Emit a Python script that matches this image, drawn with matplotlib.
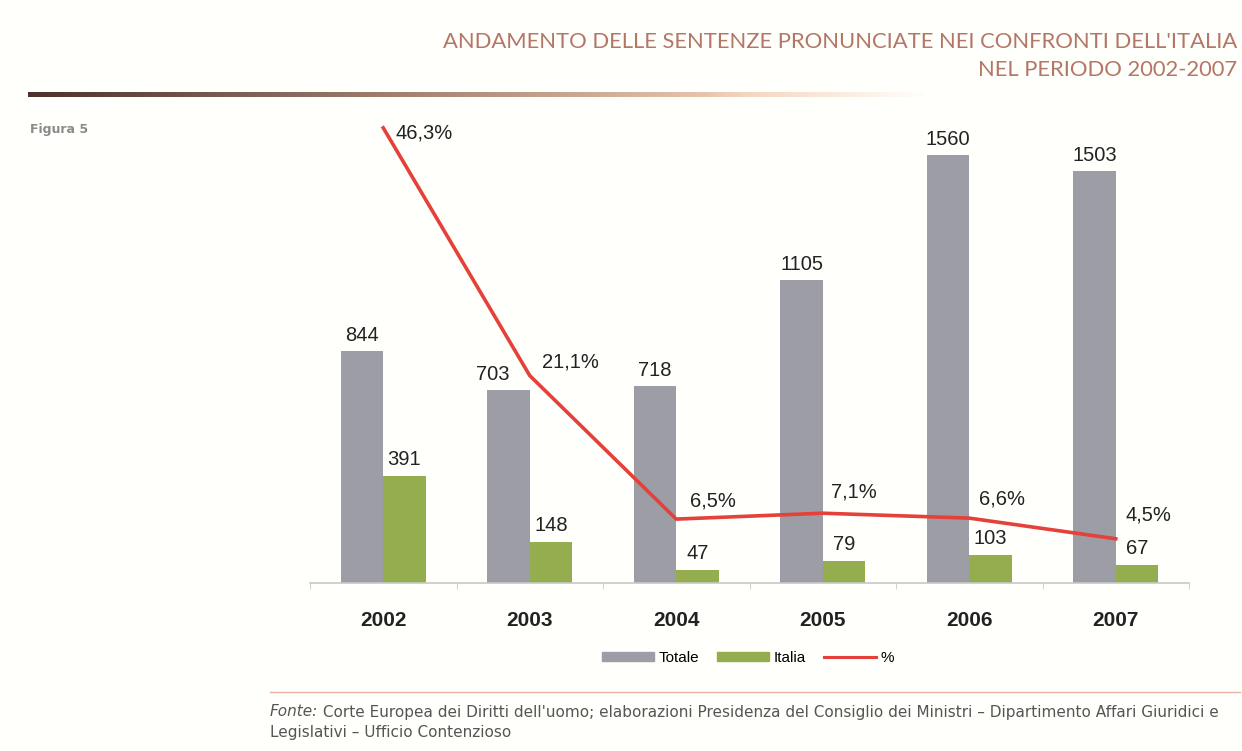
import numpy as np
import matplotlib.pyplot as plt
from matplotlib.patches import Patch
from matplotlib.lines import Line2D

years = ["2002", "2003", "2004", "2005", "2006", "2007"]
totale = [844, 703, 718, 1105, 1560, 1503]
italia = [391, 148, 47, 79, 103, 67]
percent = [46.3, 21.1, 6.5, 7.1, 6.6, 4.5]
percent_labels = ["46,3%", "21,1%", "6,5%", "7,1%", "6,6%", "4,5%"]

title_1 = "ANDAMENTO DELLE SENTENZE PRONUNCIATE NEI CONFRONTI DELL'ITALIA"
title_2 = "NEL PERIODO 2002-2007"
source = ("Corte Europea dei Diritti dell'uomo; elaborazioni Presidenza del Consiglio dei Ministri "
          "\u2013 Dipartimento Affari Giuridici e")
source_2 = "Legislativi \u2013 Ufficio Contenzioso"

gray = "#9c9da5"
green = "#93ad4f"
red = "#e5403a"
bg = "#fffffb"

W, H = 1242, 751
fig = plt.figure(figsize=(W / 100, H / 100), dpi=100, facecolor=bg)

# main chart area (pixels converted to figure fractions)
ax = fig.add_axes([310 / W, 1 - 583 / H, 879 / W, 473 / H])
ax.set_facecolor("none")
x = np.arange(len(years))
bw = 0.29
off = 0.145
ax.bar(x - off, totale, bw, color=gray, zorder=2)
ax.bar(x + off, italia, bw, color=green, zorder=2)
ax.set_xlim(-0.5, len(years) - 0.5)
ax.set_ylim(0, 473 / 0.2744)

for s in ["top", "right", "left"]:
    ax.spines[s].set_visible(False)
ax.spines["bottom"].set_color("#c8c8c8")
ax.spines["bottom"].set_linewidth(1.2)
ax.set_yticks([])
ax.set_xticks(x)
ax.set_xticklabels(years, fontsize=15, fontweight="bold", family="Liberation Sans", color="#222222")
ax.tick_params(axis="x", length=0, pad=20)
ax.set_xticks(np.arange(-0.5, len(years), 1), minor=True)
ax.tick_params(axis="x", which="minor", length=4, color="#c8c8c8")

gray_dx = [0, -16, 0, 0, 0, 0]
for i, v in enumerate(totale):
    ax.annotate(str(v), (x[i] - off, v), xytext=(gray_dx[i], 6), textcoords="offset pixels",
                ha="center", va="bottom", fontsize=14.5, family="Liberation Sans", color="#222222")
for i, v in enumerate(italia):
    ax.annotate(str(v), (x[i] + off, v), xytext=(0, 7), textcoords="offset pixels",
                ha="center", va="bottom", fontsize=14.5, family="Liberation Sans", color="#222222")

ax2 = ax.twinx()
ax2.set_facecolor("none")
ax2.plot(x, percent, color=red, lw=2.6, zorder=3)
ax2.set_ylim(0, 473 / 9.83)
ax2.axis("off")

pct_off = [(12, -5), (12, 14), (14, 18), (8, 21), (10, 19), (10, 24)]
for i, v in enumerate(percent):
    ax2.annotate(percent_labels[i], (x[i], v), xytext=pct_off[i], textcoords="offset pixels",
                 ha="left", va="center", fontsize=14.5, family="Liberation Sans", color="#222222")

# legend
handles = [Patch(color=gray, label="Totale"), Patch(color=green, label="Italia"),
           Line2D([], [], color=red, lw=2.2, label="%")]
fig.legend(handles=handles, loc="center", bbox_to_anchor=(748 / W, 1 - 658 / H), ncol=3,
           frameon=False, handlelength=3.4, handleheight=0.5,
           handletextpad=0.3, columnspacing=1.2, prop={"family": "Liberation Sans", "size": 11})

# header
fig.text(1237 / W, 1 - 42 / H, title_1, ha="right", va="center", fontsize=15.8,
         family="Lato", color="#b47666")
fig.text(1237 / W, 1 - 70 / H, title_2, ha="right", va="center", fontsize=15.8,
         family="Lato", color="#b47666")

# gradient rule under the header
rule = fig.add_axes([28 / W, 1 - 97 / H, 900 / W, 5 / H])
t = np.linspace(0, 1, 300)
c0 = np.array([0.30, 0.19, 0.17])
c1 = np.array([0.95, 0.80, 0.70])
grad = np.zeros((1, 300, 4))
grad[0, :, :3] = c0 + (c1 - c0) * np.clip(t / 0.8, 0, 1)[:, None]
grad[0, :, 3] = np.clip((1 - t) / 0.25, 0, 1)
rule.imshow(grad, aspect="auto", extent=[0, 1, 0, 1])
rule.axis("off")

fig.text(30 / W, 1 - 130 / H, "Figura 5", ha="left", va="center", fontsize=9,
         family="DejaVu Sans", fontweight="bold", color="#8a8a8a")

# source note
fig.add_artist(Line2D([270 / W, 1240 / W], [1 - 692 / H, 1 - 692 / H], color="#e9b0a8", lw=1))
t1 = fig.text(270 / W, 1 - 712 / H, "Fonte:", ha="left", va="center", fontsize=11,
              family="DejaVu Sans", style="italic", color="#555555")
fig.add_artist(plt.Annotation(" " + source, xy=(1, 0.5), xycoords=t1, va="center", ha="left",
                              fontsize=11, family="DejaVu Sans", color="#555555"))
fig.text(270 / W, 1 - 733 / H, source_2, ha="left", va="center", fontsize=11,
         family="DejaVu Sans", color="#555555")

fig.savefig("out.png", dpi=100, facecolor=bg)
